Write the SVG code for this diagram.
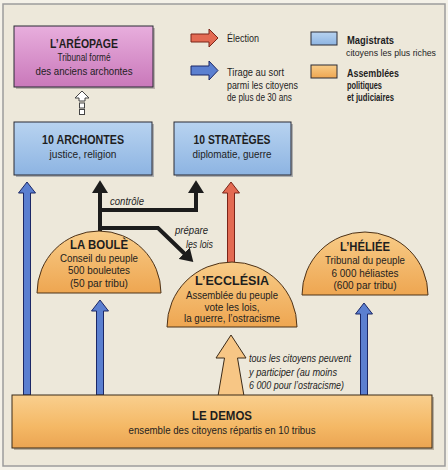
<svg xmlns="http://www.w3.org/2000/svg" width="448" height="470" viewBox="0 0 448 470">
<defs>
<linearGradient id="gPink" x1="0" y1="0" x2="0" y2="1"><stop offset="0" stop-color="#E8AEDD"/><stop offset="1" stop-color="#C978BA"/></linearGradient>
<linearGradient id="gBlue" x1="0" y1="0" x2="0" y2="1"><stop offset="0" stop-color="#B8D3F0"/><stop offset="1" stop-color="#8DB4E2"/></linearGradient>
<linearGradient id="gOrange" x1="0" y1="0" x2="0" y2="1"><stop offset="0" stop-color="#F8CC88"/><stop offset="1" stop-color="#EEA651"/></linearGradient>
<linearGradient id="gDemos" x1="0" y1="0" x2="0" y2="1"><stop offset="0" stop-color="#F9CF8E"/><stop offset="0.6" stop-color="#F4B865"/><stop offset="1" stop-color="#EBA452"/></linearGradient>
<marker id="mBlack" markerWidth="4" markerHeight="4" refX="1" refY="2" orient="auto" markerUnits="strokeWidth"><path d="M0,0 L3.2,2 L0,4 Z" fill="#1c1c1c"/></marker>
</defs>
<style>
text{font-family:"Liberation Sans",Arial,sans-serif;fill:#1e1e1e;text-anchor:middle}
.t{font-weight:bold;font-size:12.5px}
.b{font-size:11px}
.i{font-style:italic;font-size:10.5px;text-anchor:start}
.l{font-size:11px;text-anchor:start}
.lb{font-size:11.5px;font-weight:bold;text-anchor:start}
.box{stroke:#2b2b35;stroke-width:1}
.dome{fill:url(#gOrange);stroke:#4d3218;stroke-width:1}
.blue{fill:#5B7FD0;stroke:#1B2766;stroke-width:1}
.red{fill:#E36A52;stroke:#7A2418;stroke-width:1}
.blk{fill:none;stroke:#1c1c1c;stroke-width:4;stroke-linejoin:miter}
</style>
<rect x="0" y="0" width="448" height="470" fill="#F4F1E8"/>
<rect x="3" y="4" width="442" height="462" fill="#EDE8DA" stroke="#9c9c9c" stroke-width="1.5"/>

<g id="legend">
<path class="red" d="M191,34 H209 V29 L218,38 L209,47 V42 H191 Z"/>
<text class="l" x="227" y="42" textLength="32" lengthAdjust="spacingAndGlyphs">Élection</text>
<path class="blue" d="M191,66 H209 V61 L218,70.5 L209,80 V75 H191 Z"/>
<text class="l" x="227" y="76" textLength="57" lengthAdjust="spacingAndGlyphs">Tirage au sort</text>
<text class="l" x="227" y="89" textLength="71" lengthAdjust="spacingAndGlyphs">parmi les citoyens</text>
<text class="l" x="227" y="101" textLength="65" lengthAdjust="spacingAndGlyphs">de plus de 30 ans</text>
<rect class="box" x="311" y="32" width="26" height="13" fill="url(#gBlue)"/>
<text class="lb" x="347" y="44" textLength="47" lengthAdjust="spacingAndGlyphs">Magistrats</text>
<text class="l" x="346" y="56" style="font-size:9.5px" textLength="90" lengthAdjust="spacingAndGlyphs">citoyens les plus riches</text>
<rect class="box" x="311" y="65" width="26" height="13" fill="url(#gOrange)"/>
<text class="lb" x="347" y="77" textLength="52" lengthAdjust="spacingAndGlyphs">Assemblées</text>
<text class="lb" x="347" y="89" textLength="35" lengthAdjust="spacingAndGlyphs">politiques</text>
<text class="lb" x="347" y="101" textLength="47" lengthAdjust="spacingAndGlyphs">et judiciaires</text>
</g>

<g id="connectors">
<path d="M82,91 L89,98 H85 V101 H79 V98 H75 Z" fill="#fff" stroke="#444" stroke-width="1"/>
<rect x="79.5" y="103" width="5" height="5" fill="#fff" stroke="#444" stroke-width="1"/>
<rect x="79.5" y="109.5" width="5" height="5" fill="#fff" stroke="#444" stroke-width="1"/>
<path class="blk" d="M100,236 V189" marker-end="url(#mBlack)"/>
<path class="blk" d="M100,210 H196 V189" marker-end="url(#mBlack)"/>
<path class="blk" d="M100,228 H158 L187,256" marker-end="url(#mBlack)"/>
<text class="i" x="110" y="205" textLength="34" lengthAdjust="spacingAndGlyphs">contrôle</text>
<text class="i" x="175" y="234" textLength="33" lengthAdjust="spacingAndGlyphs">prépare</text>
<text class="i" x="186" y="248" textLength="27" lengthAdjust="spacingAndGlyphs">les lois</text>
<path class="red" d="M231,182 L239.5,193 H234.5 V265 H227.5 V193 H222.5 Z"/>
<path class="blue" d="M27,182 L35.5,193 H30.5 V395 H23.5 V193 H18.5 Z"/>
<path class="blue" d="M100,300 L108.5,311 H103.5 V395 H96.5 V311 H91.5 Z"/>
<path class="blue" d="M364,303 L372.5,314 H367.5 V395 H360.5 V314 H355.5 Z"/>
<path d="M231,335 L246,358 H237.5 L244,396 H218 L224.5,358 H216 Z" fill="#F7C685" stroke="#3b2a18" stroke-width="1"/>
<text class="i" x="249" y="362" textLength="102" lengthAdjust="spacingAndGlyphs">tous les citoyens peuvent</text>
<text class="i" x="249" y="376" textLength="88" lengthAdjust="spacingAndGlyphs">y participer (au moins</text>
<text class="i" x="249" y="389" textLength="95" lengthAdjust="spacingAndGlyphs">6 000 pour l’ostracisme)</text>
</g>

<g id="areopage">
<rect x="16" y="28" width="139" height="61" fill="#8a7a80" opacity="0.5"/>
<rect class="box" x="14" y="26" width="139" height="61" fill="url(#gPink)"/>
<text class="t" x="84" y="48" textLength="68" lengthAdjust="spacingAndGlyphs">L’ARÉOPAGE</text>
<text class="b" x="84" y="61" textLength="53" lengthAdjust="spacingAndGlyphs">Tribunal formé</text>
<text class="b" x="84" y="75" textLength="97" lengthAdjust="spacingAndGlyphs">des anciens archontes</text>
</g>

<g id="archontes">
<rect x="16" y="124" width="138" height="53" fill="#6d7585" opacity="0.5"/>
<rect class="box" x="14" y="122" width="138" height="53" fill="url(#gBlue)"/>
<text class="t" x="83" y="144" textLength="82" lengthAdjust="spacingAndGlyphs">10 ARCHONTES</text>
<text class="b" x="83" y="158" textLength="67" lengthAdjust="spacingAndGlyphs">justice, religion</text>
</g>

<g id="strateges">
<rect x="176" y="124" width="117" height="53" fill="#6d7585" opacity="0.5"/>
<rect class="box" x="174" y="122" width="117" height="53" fill="url(#gBlue)"/>
<text class="t" x="232" y="144" textLength="77" lengthAdjust="spacingAndGlyphs">10 STRATÈGES</text>
<text class="b" x="232" y="158" textLength="79" lengthAdjust="spacingAndGlyphs">diplomatie, guerre</text>
</g>

<g id="boule">
<path class="dome" d="M37,293 A62,62 0 0 1 161,293 Z"/>
<text class="t" x="99" y="249" textLength="58" lengthAdjust="spacingAndGlyphs">LA BOULÈ</text>
<text class="b" x="99" y="262" textLength="78" lengthAdjust="spacingAndGlyphs">Conseil du peuple</text>
<text class="b" x="99" y="274" textLength="62" lengthAdjust="spacingAndGlyphs">500 bouleutes</text>
<text class="b" x="99" y="287" textLength="58" lengthAdjust="spacingAndGlyphs">(50 par tribu)</text>
</g>

<g id="ecclesia">
<path class="dome" d="M167,327 A65,65 0 0 1 297,327 Z"/>
<text class="t" x="232" y="285" textLength="74" lengthAdjust="spacingAndGlyphs">L’ECCLÉSIA</text>
<text class="b" x="232" y="299" textLength="92" lengthAdjust="spacingAndGlyphs">Assemblée du peuple</text>
<text class="b" x="232" y="311" textLength="55" lengthAdjust="spacingAndGlyphs">vote les lois,</text>
<text class="b" x="232" y="322" textLength="96" lengthAdjust="spacingAndGlyphs">la guerre, l’ostracisme</text>
</g>

<g id="heliee">
<path class="dome" d="M302,295 A63,63 0 0 1 428,295 Z"/>
<text class="t" x="365" y="251" textLength="50" lengthAdjust="spacingAndGlyphs">L’HÉLIÉE</text>
<text class="b" x="365" y="264" textLength="80" lengthAdjust="spacingAndGlyphs">Tribunal du peuple</text>
<text class="b" x="365" y="277" textLength="67" lengthAdjust="spacingAndGlyphs">6 000 héliastes</text>
<text class="b" x="365" y="289" textLength="63" lengthAdjust="spacingAndGlyphs">(600 par tribu)</text>
</g>

<g id="demos">
<rect x="14" y="397" width="420" height="53" fill="#7a6a55" opacity="0.45"/>
<rect x="12" y="395" width="420" height="53" fill="url(#gDemos)" stroke="#3b2a18" stroke-width="1"/>
<text class="t" x="222" y="420" textLength="60" lengthAdjust="spacingAndGlyphs">LE DEMOS</text>
<text class="b" x="222" y="434" textLength="187" lengthAdjust="spacingAndGlyphs">ensemble des citoyens répartis en 10 tribus</text>
</g>
</svg>
